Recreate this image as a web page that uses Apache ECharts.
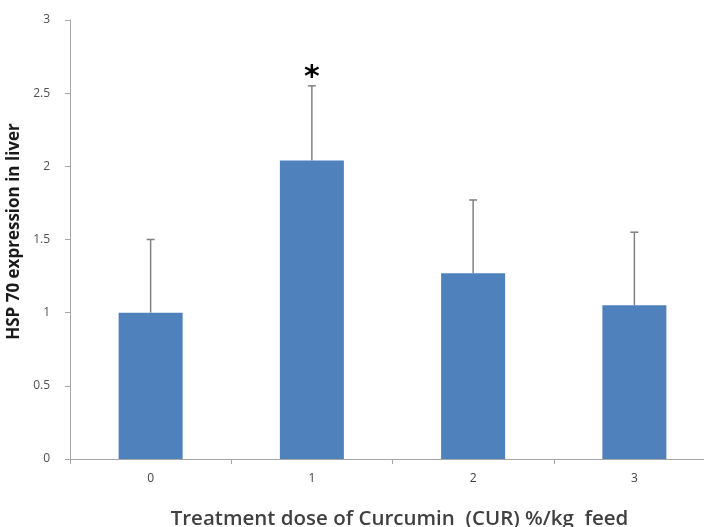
<!DOCTYPE html>
<html>
<head>
<meta charset="utf-8">
<script src="https://cdn.jsdelivr.net/npm/echarts@6/dist/echarts.min.js"></script>
<style>html,body{margin:0;padding:0;background:#fff;}#c{width:704px;height:527px;}</style>
</head>
<body>
<div id="c"></div>
<script>
const categories = ['0', '1', '2', '3'];
const means = [1.0, 2.04, 1.27, 1.05];
const upperErrors = [1.5, 2.55, 1.77, 1.55];
const significance = ['', '*', '', ''];
const yTicks = { min: 0, max: 3, interval: 0.5 };

const chart = echarts.init(document.getElementById('c'), null, { renderer: 'canvas' });
const errData = categories.map((c, i) => [i, means[i], upperErrors[i], significance[i]]);

chart.setOption({
  animation: false,
  backgroundColor: '#ffffff',
  grid: { left: 70, width: 645, top: 20, height: 439, containLabel: false, outerBoundsMode: 'none' },
  xAxis: {
    type: 'category',
    data: categories,
    boundaryGap: true,
    axisLine: { lineStyle: { color: '#a6a6a6', width: 1 } },
    axisTick: { show: true, alignWithLabel: false, length: 5, lineStyle: { color: '#a6a6a6' } },
    axisLabel: { color: '#404040', fontSize: 12, fontFamily: 'Open Sans', margin: 14 },
    name: 'Treatment dose of Curcumin  (CUR) %/kg  feed',
    nameLocation: 'middle',
    nameGap: 50,
    nameTextStyle: { color: '#404040', fontSize: 20.5, fontWeight: 600, fontFamily: 'Open Sans', padding: [0, 0, 0, 14] }
  },
  yAxis: {
    type: 'value',
    min: yTicks.min, max: yTicks.max, interval: yTicks.interval,
    splitLine: { show: false },
    axisLine: { show: true, lineStyle: { color: '#a6a6a6', width: 1 } },
    axisTick: { show: true, length: 5, lineStyle: { color: '#a6a6a6' } },
    axisLabel: { color: '#505050', fontSize: 12, fontFamily: 'Open Sans', margin: 20 },
    name: 'HSP 70 expression in liver',
    nameLocation: 'middle',
    nameGap: 39,
    nameRotate: 90,
    nameTextStyle: { color: '#1a1a1a', fontSize: 17, fontWeight: 'bold', fontFamily: 'Open Sans', padding: [0, 0, 0, 16] }
  },
  series: [
    {
      type: 'bar',
      data: means,
      barWidth: 64,
      itemStyle: { color: '#4f81bd' },
      z: 2
    },
    {
      type: 'custom',
      data: errData,
      z: 3,
      renderItem: function (params, api) {
        const x = api.value(0);
        const base = api.coord([x, api.value(1)]);
        const top = api.coord([x, api.value(2)]);
        const cap = 4;
        const children = [
          { type: 'line', shape: { x1: base[0], y1: base[1], x2: top[0], y2: top[1] }, style: { stroke: '#808080', lineWidth: 1.5 } },
          { type: 'line', shape: { x1: top[0] - cap, y1: top[1], x2: top[0] + cap, y2: top[1] }, style: { stroke: '#808080', lineWidth: 1.5 } }
        ];
        const sig = errData[params.dataIndex][3];
        if (sig) {
          children.push({ type: 'text', style: { text: sig, x: top[0], y: top[1] + 7, align: 'center', verticalAlign: 'bottom', fill: '#000', fontSize: 30, fontWeight: 'bold', fontFamily: 'DejaVu Sans' } });
        }
        return { type: 'group', children: children };
      }
    }
  ]
});
</script>
</body>
</html>
